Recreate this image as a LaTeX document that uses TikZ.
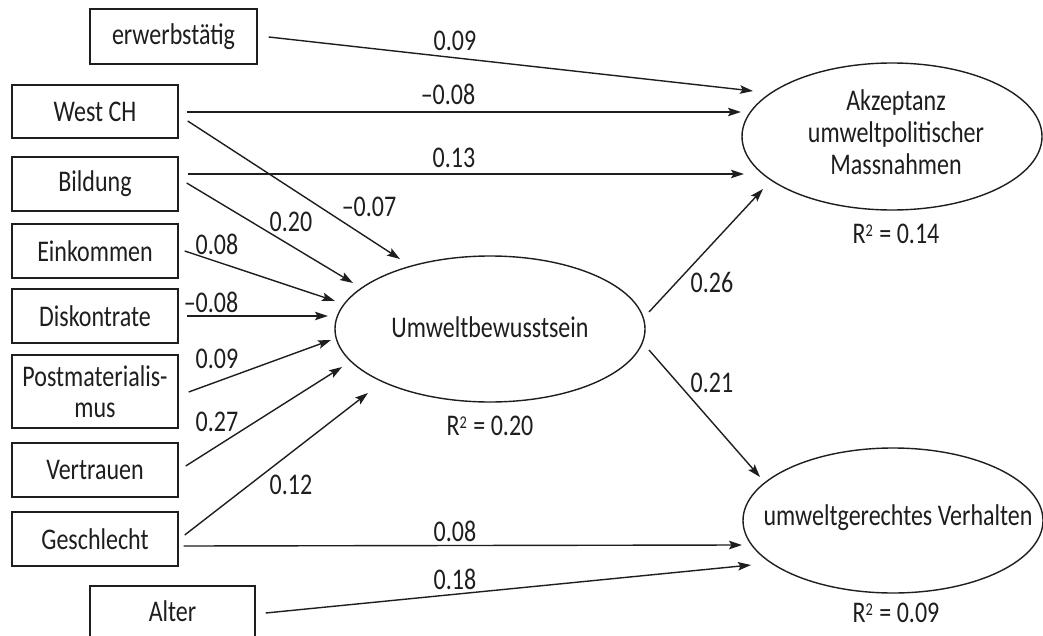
\documentclass[tikz,border=0pt]{standalone}
\usepackage{fontspec}
\setmainfont{Carlito}[FakeStretch=0.8]
\usetikzlibrary{shapes.geometric,arrows.meta}
\definecolor{ink}{HTML}{1E1E1E}
\newcommand{\rsq}{R\raisebox{7pt}{\fontsize{18}{18}\selectfont 2}\hspace{1pt}}
\tikzset{
  every node/.style={text=ink},
  box/.style={draw=ink, line width=1.4pt, rectangle, inner sep=0pt, minimum width=166pt, minimum height=54pt, align=center, font=\fontsize{30}{31}\selectfont},
  ell/.style={draw=ink, line width=1.4pt, ellipse, inner sep=0pt},
  txt/.style={inner sep=0pt, align=center, font=\fontsize{30}{32}\selectfont},
  lab/.style={inner sep=0pt, font=\fontsize{30}{32}\selectfont},
  arr/.style={draw=ink, line width=1.4pt, -{Stealth[length=13pt,width=8.5pt,inset=2.5pt]}}
}
\begin{document}
\begin{tikzpicture}[x=1pt,y=-1pt]
\useasboundingbox (0,0) rectangle (1043,636);
\clip (0,0) rectangle (1043,636);
\fill[white] (0,0) rectangle (1043,636);
% boxes
\node[box, minimum width=167pt, minimum height=55pt] (erw) at (173.5,36.5) {erwerbstätig};
\node[box, minimum height=53pt] (west) at (95,111.5) {West CH};
\node[box] (bild) at (95,184) {Bildung};
\node[box] (eink) at (95,251) {Einkommen};
\node[box] (disk) at (95,316) {Diskontrate};
\node[box, minimum height=73pt] (post) at (95,391.5) {Postmaterialis-\\mus};
\node[box] (vert) at (95,470) {Vertrauen};
\node[box] (gesch) at (95,539) {Geschlecht};
\node[box, minimum width=165pt] (alter) at (172.5,613) {\raisebox{3pt}{Alter}};
% ellipses
\node[ell, minimum width=310pt, minimum height=146pt] (umw) at (490,329) {};
\node[txt] (umwt) at (490,327) {Umweltbewusstsein};
\node[ell, minimum width=300pt, minimum height=147pt] (akz) at (892,136.5) {};
\node[txt] (akzt) at (896,132) {Akzeptanz\\umweltpolitischer\\Massnahmen};
\node[ell, minimum width=300pt, minimum height=145pt] (verh) at (893,520.5) {};
\node[txt] (verht) at (898,518) {umweltgerechtes Verhalten};
% R2 labels
\node[lab] (r1) at (490,426) {\rsq{} = 0.20};
\node[lab] (r2) at (896,234) {\rsq{} = 0.14};
\node[lab] (r3) at (896,613) {\rsq{} = 0.09};
% connectors
\draw[arr] ([shift={(11,0.5)}]erw.east) -- ([shift={(-139,-45.5)}]akz.center);
\draw[arr] ([shift={(8,0.5)}]west.east) -- ([shift={(-151,-24.5)}]akz.center);
\draw[arr] ([shift={(9,9.5)}]west.east) -- ([shift={(-90,-70)}]umw.center);
\draw[arr] ([shift={(9,-10)}]bild.east) -- ([shift={(-148,37.5)}]akz.center);
\draw[arr] ([shift={(8,-1)}]bild.east) -- ([shift={(-137,-46)}]umw.center);
\draw[arr] ([shift={(6,0)}]eink.east) -- ([shift={(-155,-28)}]umw.center);
\draw[arr] ([shift={(8,0)}]disk.east) -- ([shift={(-162,-13)}]umw.center);
\draw[arr] ([shift={(10,0.5)}]post.east) -- ([shift={(-159,11)}]umw.center);
\draw[arr] ([shift={(7,-4)}]vert.east) -- ([shift={(-148,38)}]umw.center);
\draw[arr] ([shift={(6,-4)}]gesch.east) -- ([shift={(-122,64)}]umw.center);
\draw[arr] ([shift={(5,7)}]gesch.east) -- ([shift={(-151,24.5)}]verh.center);
\draw[arr] ([shift={(10,0)}]alter.east) -- ([shift={(-142,44.5)}]verh.center);
\draw[arr] ([shift={(159,-17)}]umw.center) -- ([shift={(-129,52.5)}]akz.center);
\draw[arr] ([shift={(159,21)}]umw.center) -- ([shift={(-133,-43.5)}]verh.center);
% path coefficients
\node[lab] (c1) at (455,41) {0.09};
\node[lab] (c2) at (448,94) {–0.08};
\node[lab] (c3) at (454,158) {0.13};
\node[lab] (c4) at (369,207) {–0.07};
\node[lab] (c5) at (291,222) {0.20};
\node[lab] (c6) at (217,244) {0.08};
\node[lab] (c7) at (211,302) {–0.08};
\node[lab] (c8) at (217,359) {0.09};
\node[lab] (c9) at (217,422) {0.27};
\node[lab] (c10) at (291,485) {0.12};
\node[lab] (c11) at (455,531) {0.08};
\node[lab] (c12) at (455,579) {0.18};
\node[lab] (c13) at (712,282) {0.26};
\node[lab] (c14) at (712,383) {0.21};
\end{tikzpicture}
\end{document}
